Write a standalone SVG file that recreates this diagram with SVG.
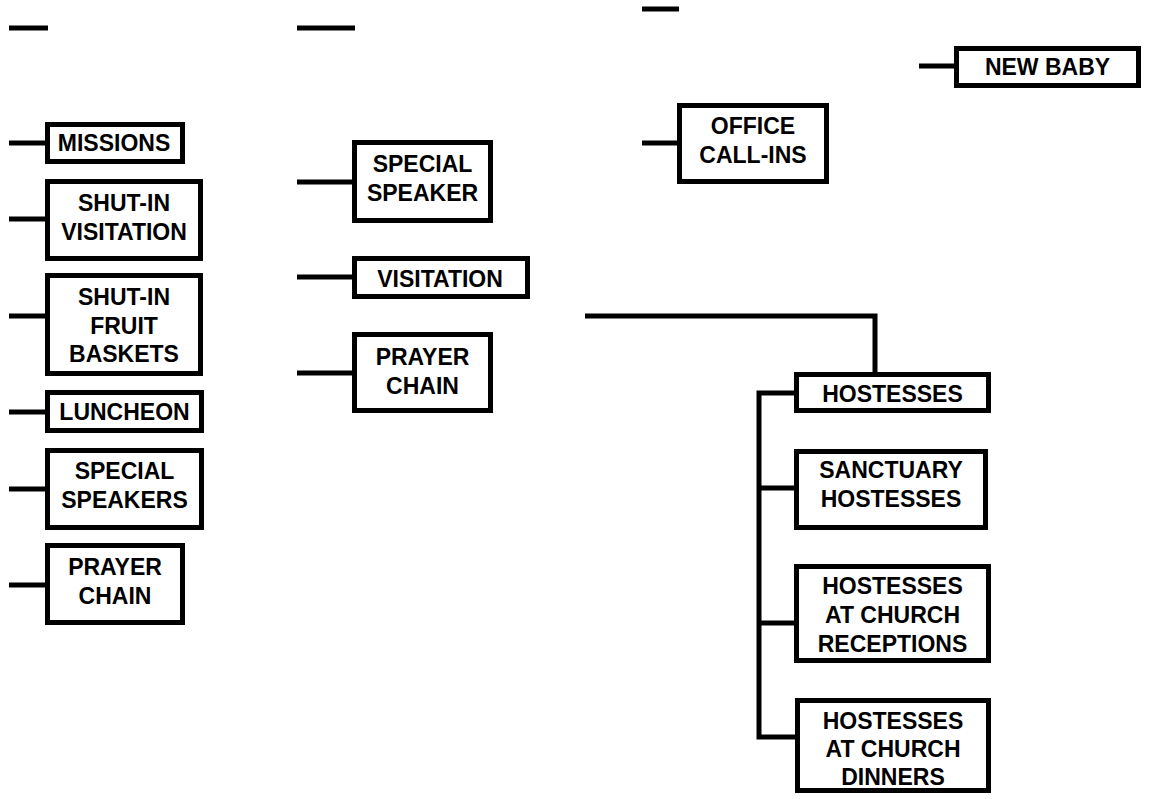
<svg xmlns="http://www.w3.org/2000/svg" width="1163" height="799" viewBox="0 0 1163 799">
  <style>
    .box { fill: #ffffff; stroke: #000000; stroke-width: 5; }
    .lbl { font-family: "Liberation Sans", Arial, sans-serif; font-weight: bold; font-size: 23px; fill: #000000; text-anchor: middle; }
    .wire { fill: none; stroke: #000000; stroke-width: 5; stroke-linecap: butt; stroke-linejoin: miter; }
  </style>

  <!-- connectors -->
  <g id="connectors">
    <path class="wire" d="M9,28 H48"/>
    <path class="wire" d="M297,28 H355"/>
    <path class="wire" d="M642,9 H679"/>

    <path class="wire" d="M9,143 H45"/>
    <path class="wire" d="M9,219 H45"/>
    <path class="wire" d="M9,316 H45"/>
    <path class="wire" d="M9,412 H45"/>
    <path class="wire" d="M9,489 H45"/>
    <path class="wire" d="M9,585 H45"/>

    <path class="wire" d="M297,182 H352"/>
    <path class="wire" d="M297,277 H352"/>
    <path class="wire" d="M297,373 H352"/>

    <path class="wire" d="M642,143 H677"/>
    <path class="wire" d="M919,66 H954"/>

    <path class="wire" d="M585,316 H875 V372"/>
    <path class="wire" d="M794,393 H759 V737 H795"/>
    <path class="wire" d="M759,488 H794"/>
    <path class="wire" d="M759,623 H794"/>
  </g>

  <g id="missions">
    <rect class="box" x="47.5" y="124.5" width="135" height="37"/>
    <text class="lbl" x="114" y="150.5">MISSIONS</text>
  </g>
  <g id="shutin-visitation">
    <rect class="box" x="47.5" y="181.5" width="153" height="77"/>
    <text class="lbl" x="124" y="210.5">SHUT-IN</text>
    <text class="lbl" x="124" y="239.5">VISITATION</text>
  </g>
  <g id="shutin-fruit-baskets">
    <rect class="box" x="47.5" y="275.5" width="153" height="98"/>
    <text class="lbl" x="124" y="305">SHUT-IN</text>
    <text class="lbl" x="124" y="333.5">FRUIT</text>
    <text class="lbl" x="124" y="362">BASKETS</text>
  </g>
  <g id="luncheon">
    <rect class="box" x="47.5" y="392.5" width="154" height="38"/>
    <text class="lbl" x="124.5" y="420">LUNCHEON</text>
  </g>
  <g id="special-speakers">
    <rect class="box" x="47.5" y="450.5" width="154" height="77"/>
    <text class="lbl" x="124.5" y="478.5">SPECIAL</text>
    <text class="lbl" x="124.5" y="507.5">SPEAKERS</text>
  </g>
  <g id="prayer-chain-1">
    <rect class="box" x="47.5" y="545.5" width="135" height="77"/>
    <text class="lbl" x="115" y="575">PRAYER</text>
    <text class="lbl" x="115" y="604">CHAIN</text>
  </g>

  <g id="special-speaker">
    <rect class="box" x="354.5" y="142.5" width="136" height="78"/>
    <text class="lbl" x="422.5" y="172">SPECIAL</text>
    <text class="lbl" x="422.5" y="200.5">SPEAKER</text>
  </g>
  <g id="visitation">
    <rect class="box" x="354.5" y="258.5" width="173" height="38"/>
    <text class="lbl" x="440" y="286.5">VISITATION</text>
  </g>
  <g id="prayer-chain-2">
    <rect class="box" x="354.5" y="334.5" width="136" height="76"/>
    <text class="lbl" x="422.5" y="365">PRAYER</text>
    <text class="lbl" x="422.5" y="393.5">CHAIN</text>
  </g>

  <g id="office-call-ins">
    <rect class="box" x="679.5" y="105.5" width="147" height="76"/>
    <text class="lbl" x="753" y="133.5">OFFICE</text>
    <text class="lbl" x="753" y="163">CALL-INS</text>
  </g>
  <g id="new-baby">
    <rect class="box" x="956.5" y="48.5" width="182" height="37"/>
    <text class="lbl" x="1047.5" y="75">NEW BABY</text>
  </g>

  <g id="hostesses">
    <rect class="box" x="796.5" y="374.5" width="192" height="36"/>
    <text class="lbl" x="892.5" y="401.5">HOSTESSES</text>
  </g>
  <g id="sanctuary-hostesses">
    <rect class="box" x="796.5" y="451.5" width="189" height="76"/>
    <text class="lbl" x="891" y="478">SANCTUARY</text>
    <text class="lbl" x="891" y="506.5">HOSTESSES</text>
  </g>
  <g id="hostesses-receptions">
    <rect class="box" x="796.5" y="566.5" width="192" height="94"/>
    <text class="lbl" x="892.5" y="593.5">HOSTESSES</text>
    <text class="lbl" x="892.5" y="622.5">AT CHURCH</text>
    <text class="lbl" x="892.5" y="651.5">RECEPTIONS</text>
  </g>
  <g id="hostesses-dinners">
    <rect class="box" x="797.5" y="700.5" width="191" height="90"/>
    <text class="lbl" x="893" y="728.5">HOSTESSES</text>
    <text class="lbl" x="893" y="757">AT CHURCH</text>
    <text class="lbl" x="893" y="785">DINNERS</text>
  </g>
</svg>
